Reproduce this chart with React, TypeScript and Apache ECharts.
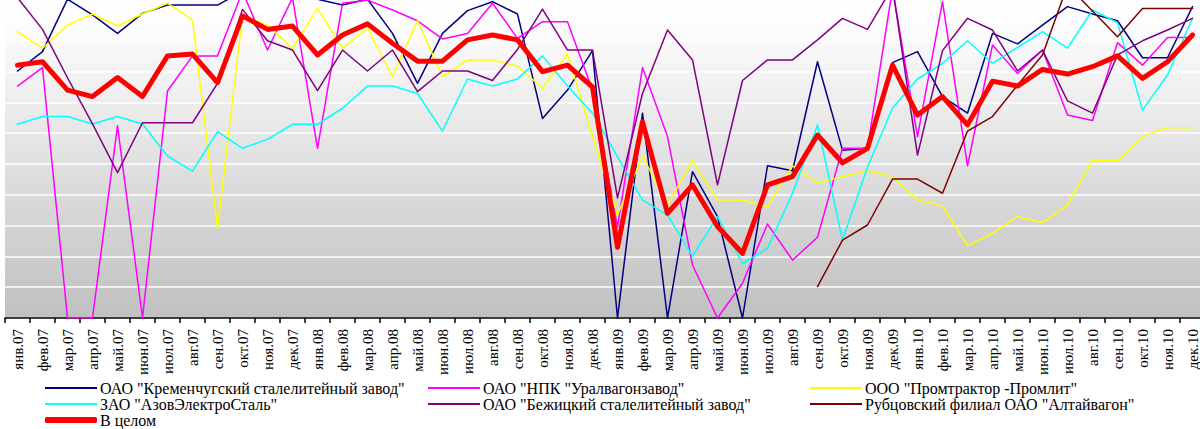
import React, { useEffect, useRef } from "react";
import * as echarts from "echarts";

const months = ["янв", "фев", "мар", "апр", "май", "июн", "июл", "авг", "сен", "окт", "ноя", "дек"];
const years = ["07", "08", "09", "10"];
const categories: string[] = [];
years.forEach((y) => months.forEach((m) => categories.push(m + "." + y)));

const nameKremen = 'ОАО "Кременчугский сталелитейный завод"';
const nameNpk = 'ОАО "НПК "Уралвагонзавод"';
const namePromtraktor = 'ООО "Промтрактор -Промлит"';
const nameAzov = 'ЗАО "АзовЭлектроСталь"';
const nameBezh = 'ОАО "Бежицкий сталелитейный завод"';
const nameRubtsov = 'Рубцовский филиал ОАО "Алтайвагон"';
const nameTotal = "В целом";

const kremen = [8.02, 8.65, 10.35, 9.84, 9.24, 9.89, 10.16, 10.16, 10.16, 10.6, 10.6, 10.5,
  10.35, 10.16, 10.35, 9.24, 7.62, 9.24, 9.98, 10.27, 9.87, 6.48, 7.4, 8.68,
  0, 6.65, 0, 4.75, 3.29, 0, 4.94, 4.78, 8.32, 5.45, 5.51, 8.29,
  8.65, 7.19, 6.65, 9.24, 8.9, 9.51, 10.11, 9.87, 9.65, 8.45, 8.45, 10.11];
const npk = [7.53, 8.13, 0, 0, 6.24, 0, 7.37, 8.51, 8.51, 10.6, 8.7, 10.4,
  5.51, 10.22, 10.32, 10.0, 9.65, 9.06, 9.24, 10.22, 9.08, 9.62, 9.62, 7.4,
  2.95, 8.13, 5.89, 1.72, 0, 1.13, 3.05, 1.88, 2.62, 5.51, 5.51, 10.7,
  5.89, 10.27, 4.94, 8.86, 7.94, 8.7, 6.59, 6.41, 8.94, 8.21, 9.11, 9.11];
const promtraktor = [9.3, 8.76, 9.51, 9.87, 9.48, 9.87, 10.22, 9.68, 2.91, 9.81, 9.51, 8.76,
  10.05, 8.76, 9.4, 7.84, 9.65, 7.84, 8.38, 8.38, 8.18, 7.46, 8.57, 5.9,
  3.35, 5.26, 3.67, 5.11, 3.83, 3.83, 3.61, 4.94, 4.39, 4.59, 4.78, 4.59,
  3.83, 3.64, 2.34, 2.75, 3.29, 3.1, 3.67, 5.11, 5.11, 5.89, 6.18, 6.18];
const azov = [6.29, 6.54, 6.54, 6.3, 6.54, 6.3, 5.26, 4.77, 6.05, 5.51, 5.8, 6.29,
  6.29, 6.81, 7.53, 7.53, 7.29, 6.07, 7.76, 7.53, 7.76, 8.51, 7.53, 6.65,
  5.24, 3.83, 3.34, 2.01, 3.29, 1.77, 2.26, 4.05, 6.27, 2.53, 4.9, 6.81,
  7.76, 8.27, 9.0, 8.27, 8.79, 9.3, 8.76, 10.0, 9.59, 6.75, 7.89, 9.73];
const bezh = [10.4, 9.37, 7.8, 6.3, 4.72, 6.34, 6.34, 6.34, 7.62, 10.02, 9.0, 8.7,
  7.38, 8.7, 8.02, 8.7, 7.35, 8.02, 8.02, 7.71, 8.72, 10.03, 8.7, 8.7,
  3.9, 7.29, 9.35, 8.38, 4.32, 7.71, 8.38, 8.38, 9.03, 9.73, 9.37, 10.75,
  5.29, 8.68, 9.73, 9.35, 8.02, 8.7, 7.05, 6.65, 8.54, 9.0, 9.35, 9.73];
const rubtsov = [null, null, null, null, null, null, null, null, null, null, null, null,
  null, null, null, null, null, null, null, null, null, null, null, null,
  null, null, null, null, null, null, null, null, 1.02, 2.53, 3.02, 4.51,
  4.51, 4.05, 6.07, 6.54, 7.56, 8.54, 10.8, 9.97, 9.13, 10.05, 10.05, 10.05];
const total = [8.21, 8.32, 7.4, 7.19, 7.81, 7.19, 8.51, 8.57, 7.64, 9.81, 9.37, 9.48,
  8.54, 9.19, 9.55, 8.92, 8.34, 8.34, 9.03, 9.19, 9.03, 8.0, 8.21, 7.5,
  2.3, 6.37, 3.4, 4.32, 2.97, 2.1, 4.32, 4.59, 5.94, 5.04, 5.51, 8.21,
  6.59, 7.19, 6.27, 7.69, 7.53, 8.07, 7.92, 8.16, 8.51, 7.78, 8.32, 9.19];

const FONT = "'Liberation Serif', 'DejaVu Serif', serif";

export default function App() {
  const ref = useRef<HTMLDivElement>(null);
  useEffect(() => {
    if (!ref.current) return;
    const chart = echarts.init(ref.current, undefined, { renderer: "svg" });

    const seriesDefs = [
      { name: nameKremen, data: kremen, color: "#000080", width: 1.5 },
      { name: nameNpk, data: npk, color: "#ff00ff", width: 1.5 },
      { name: namePromtraktor, data: promtraktor, color: "#ffff00", width: 1.5 },
      { name: nameAzov, data: azov, color: "#00ffff", width: 1.5 },
      { name: nameBezh, data: bezh, color: "#800080", width: 1.5 },
      { name: nameRubtsov, data: rubtsov, color: "#800000", width: 1.5 },
      { name: nameTotal, data: total, color: "#ff0000", width: 5 },
    ];

    const legendPos: { name: string; left: number; row: number }[] = [
      { name: nameKremen, left: 45, row: 0 },
      { name: nameNpk, left: 428, row: 0 },
      { name: namePromtraktor, left: 810, row: 0 },
      { name: nameAzov, left: 45, row: 1 },
      { name: nameBezh, left: 428, row: 1 },
      { name: nameRubtsov, left: 810, row: 1 },
      { name: nameTotal, left: 45, row: 2 },
    ];
    const rowCenters = [389, 405, 421];

    const legends = legendPos.map((p) => {
      const isTotal = p.name === nameTotal;
      return {
        show: true,
        data: [p.name],
        left: p.left,
        top: rowCenters[p.row] - 9,
        padding: 0,
        itemGap: 0,
        icon: isTotal ? "roundRect" : "rect",
        itemWidth: 52,
        itemHeight: isTotal ? 6 : 2,
        selectedMode: false,
        textStyle: { fontFamily: FONT, fontSize: 16, color: "#000", padding: [0, 0, 0, -2] },
      };
    });

    chart.setOption({
      animation: false,
      backgroundColor: "#ffffff",
      grid: {
        left: 5,
        width: 1200,
        top: 318 - 11 * 30.8,
        height: 11 * 30.8,
        outerBoundsMode: "none",
        containLabel: false,
        show: true,
        borderWidth: 0,
        backgroundColor: new echarts.graphic.LinearGradient(0, 0, 0, 1, [
          { offset: 0, color: "#ffffff" },
          { offset: 0.12, color: "#fefefe" },
          { offset: 1, color: "#c0c0c0" },
        ]),
      },
      legend: legends,
      xAxis: {
        type: "category",
        data: categories,
        boundaryGap: true,
        axisLine: { show: true, lineStyle: { color: "#000", width: 1.5 } },
        axisTick: { show: true, length: 5, lineStyle: { color: "#000", width: 1.5 }, interval: 0 },
        axisLabel: {
          interval: 0,
          rotate: 90,
          margin: 11,
          color: "#000",
          fontFamily: FONT,
          fontSize: 15,
        },
      },
      yAxis: {
        type: "value",
        min: 0,
        max: 11,
        interval: 1,
        axisLabel: { show: false },
        axisLine: { show: false },
        axisTick: { show: false },
        splitLine: { show: true, lineStyle: { color: "#ffffff", width: 1.5 } },
      },
      series: seriesDefs.map((s) => ({
        name: s.name,
        type: "line",
        data: s.data,
        symbol: "none",
        showSymbol: false,
        connectNulls: false,
        color: s.color,
        itemStyle: { color: s.color },
        lineStyle: { color: s.color, width: s.width, join: "round", cap: "round" },
        emphasis: { disabled: true },
        z: s.name === nameTotal ? 5 : 2,
      })),
    });
    return () => chart.dispose();
  }, []);

  return (
    <div
      ref={ref}
      style={{ position: "absolute", left: 0, top: 0, width: 1200, height: 429, background: "#fff" }}
    />
  );
}
